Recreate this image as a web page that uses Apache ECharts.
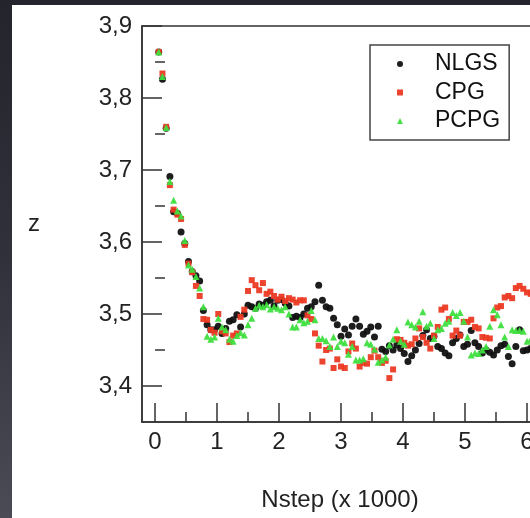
<!DOCTYPE html>
<html><head><meta charset="utf-8">
<script src="https://cdn.jsdelivr.net/npm/echarts@6/dist/echarts.min.js"></script>
<style>
html,body{margin:0;padding:0;width:530px;height:518px;overflow:hidden;background:linear-gradient(180deg,#23242c 0%,#30313a 50%,#4a4b55 100%);}
#paper{position:absolute;left:12px;top:5px;right:0;bottom:0;background:#fff;}
#chart{position:absolute;left:0;top:0;width:530px;height:518px;}
</style></head><body><div id="paper"></div><div id="chart"></div>
<script>
const seriesNames = ['NLGS', 'CPG', 'PCPG'];
const nstep = [0.06,0.12,0.18,0.24,0.30,0.36,0.42,0.48,0.54,0.60,0.66,0.72,0.78,0.84,0.90,0.96,1.02,1.08,1.14,1.20,1.26,1.32,1.38,1.44,1.50,1.56,1.62,1.68,1.74,1.80,1.86,1.92,1.98,2.04,2.10,2.16,2.22,2.28,2.34,2.40,2.46,2.52,2.58,2.64,2.70,2.76,2.82,2.88,2.94,3.00,3.06,3.12,3.18,3.24,3.30,3.36,3.42,3.48,3.54,3.60,3.66,3.72,3.78,3.84,3.90,3.96,4.02,4.08,4.14,4.20,4.26,4.32,4.38,4.44,4.50,4.56,4.62,4.68,4.74,4.80,4.86,4.92,4.98,5.04,5.10,5.16,5.22,5.28,5.34,5.40,5.46,5.52,5.58,5.64,5.70,5.76,5.82,5.88,5.94,6.00,6.06];
const nlgs = [3.864,3.826,3.758,3.691,3.642,3.640,3.614,3.598,3.573,3.559,
3.553,3.546,3.505,3.485,3.478,3.478,3.483,3.473,3.480,3.490,
3.492,3.499,3.482,3.500,3.512,3.510,3.508,3.514,3.512,3.517,
3.519,3.511,3.519,3.520,3.515,3.511,3.495,3.497,3.495,3.500,
3.508,3.510,3.517,3.540,3.519,3.510,3.508,3.494,3.485,3.469,
3.479,3.471,3.483,3.493,3.483,3.472,3.476,3.482,3.468,3.483,
3.451,3.448,3.456,3.450,3.457,3.452,3.445,3.434,3.442,3.450,
3.459,3.470,3.478,3.466,3.469,3.455,3.452,3.446,3.442,3.460,
3.466,3.471,3.455,3.458,3.477,3.460,3.455,3.446,3.450,3.447,
3.443,3.450,3.456,3.458,3.441,3.431,3.455,3.478,3.449,3.450,3.452];
const cpg = [3.864,3.834,3.760,3.679,3.645,3.638,3.632,3.596,3.570,3.558,
3.539,3.525,3.493,3.492,3.478,3.474,3.500,3.476,3.473,3.461,
3.470,3.473,3.496,3.506,3.532,3.547,3.540,3.533,3.543,3.528,
3.531,3.525,3.520,3.524,3.518,3.522,3.520,3.516,3.519,3.519,
3.498,3.493,3.473,3.456,3.434,3.450,3.452,3.425,3.437,3.427,
3.425,3.448,3.459,3.452,3.427,3.432,3.431,3.440,3.449,3.440,
3.432,3.435,3.411,3.423,3.465,3.464,3.460,3.456,3.458,3.466,
3.480,3.468,3.460,3.452,3.470,3.482,3.506,3.509,3.493,3.470,
3.477,3.470,3.489,3.489,3.492,3.482,3.480,3.468,3.467,3.466,
3.494,3.509,3.511,3.523,3.525,3.522,3.536,3.539,3.535,3.530,3.528];
const pcpg = [3.864,3.830,3.759,3.684,3.658,3.643,3.636,3.602,3.568,3.562,
3.552,3.536,3.510,3.469,3.465,3.468,3.494,3.482,3.478,3.465,
3.462,3.470,3.474,3.471,3.485,3.494,3.508,3.512,3.510,3.513,
3.507,3.510,3.508,3.506,3.510,3.500,3.482,3.482,3.492,3.488,
3.490,3.505,3.492,3.466,3.466,3.463,3.455,3.468,3.455,3.462,
3.460,3.444,3.455,3.436,3.436,3.438,3.460,3.458,3.451,3.433,
3.436,3.440,3.457,3.465,3.478,3.462,3.458,3.489,3.485,3.482,
3.490,3.503,3.483,3.487,3.466,3.478,3.480,3.487,3.490,3.502,
3.498,3.502,3.490,3.468,3.443,3.446,3.445,3.450,3.455,3.483,
3.506,3.499,3.485,3.468,3.455,3.478,3.477,3.477,3.476,3.462,3.465];
const xTicks = [0, 1, 2, 3, 4, 5, 6, 7];
const xMinorTicks = [0.5, 1.5, 2.5, 3.5, 4.5, 5.5, 6.5];
const yTicks = [3.4, 3.5, 3.6, 3.7, 3.8, 3.9];
const yMinorTicks = [3.45, 3.55, 3.65, 3.75, 3.85];

const FONT = '"Liberation Sans", Arial, Helvetica, sans-serif';
const AX = '#333';
const chart = echarts.init(document.getElementById('chart'), null, {renderer: 'canvas'});
const toPairs = ys => nstep.map((x, i) => [x, ys[i]]);
const colors = ['#111111', '#ec3a24', '#3fdf3f'];
const symbols = ['circle', 'rect', 'triangle'];
const sizes = [7, 6, 7];
const values = [nlgs, cpg, pcpg];

chart.setOption({
  animation: false,
  backgroundColor: 'transparent',
  grid: {left: 142, top: 26, width: 447, height: 396, outerBoundsMode: 'none', containLabel: false,
    show: true, borderColor: AX, borderWidth: 1.5, backgroundColor: 'transparent'},
  xAxis: [{
    type: 'value', min: -0.21, max: 7, position: 'bottom',
    axisLine: {show: true, onZero: false, lineStyle: {color: AX, width: 1.5}},
    axisTick: {show: true, inside: true, length: 19, customValues: xTicks, lineStyle: {color: AX, width: 1.5}},
    axisLabel: {customValues: xTicks, fontSize: 24, color: '#222', margin: 8, fontFamily: FONT},
    splitLine: {show: false}
  }, {
    type: 'value', min: -0.21, max: 7, position: 'bottom',
    axisLine: {show: false},
    axisTick: {show: true, inside: true, length: 10, customValues: xMinorTicks, lineStyle: {color: AX, width: 1.5}},
    axisLabel: {show: false},
    splitLine: {show: false}
  }],
  yAxis: [{
    type: 'value', min: 3.35, max: 3.9, position: 'left',
    axisLine: {show: true, onZero: false, lineStyle: {color: AX, width: 1.5}},
    axisTick: {show: true, inside: true, length: 20, customValues: yTicks, lineStyle: {color: AX, width: 1.5}},
    axisLabel: {customValues: yTicks, fontSize: 24, color: '#222', margin: 10, fontFamily: FONT,
      formatter: v => Number(v).toFixed(1).replace('.', ',')},
    splitLine: {show: false}
  }, {
    type: 'value', min: 3.35, max: 3.9, position: 'left',
    axisLine: {show: false},
    axisTick: {show: true, inside: true, length: 10, customValues: yMinorTicks, lineStyle: {color: AX, width: 1.5}},
    axisLabel: {show: false},
    splitLine: {show: false}
  }],
  legend: {
    orient: 'vertical', left: 370, top: 45,
    itemWidth: 6, itemHeight: 6, itemGap: 4.5,
    padding: [7, 9, 7, 27],
    borderColor: '#444', borderWidth: 1.5, backgroundColor: '#fff',
    textStyle: {fontSize: 23, color: '#111', lineHeight: 24, fontFamily: FONT, padding: [0, 0, 0, 27]},
    data: seriesNames
  },
  graphic: [
    {type: 'text', x: 34, y: 224, style: {text: 'z', font: '24px ' + FONT, fill: '#222', align: 'center', verticalAlign: 'middle'}},
    {type: 'text', x: 340, y: 500, style: {text: 'Nstep (x 1000)', font: '24px ' + FONT, fill: '#222', align: 'center', verticalAlign: 'middle'}}
  ],
  series: seriesNames.map((name, i) => ({
    name, type: 'scatter', xAxisIndex: 0, yAxisIndex: 0,
    symbol: symbols[i], symbolSize: sizes[i],
    itemStyle: {color: colors[i], opacity: 0.95},
    data: toPairs(values[i])
  }))
});
</script></body></html>
